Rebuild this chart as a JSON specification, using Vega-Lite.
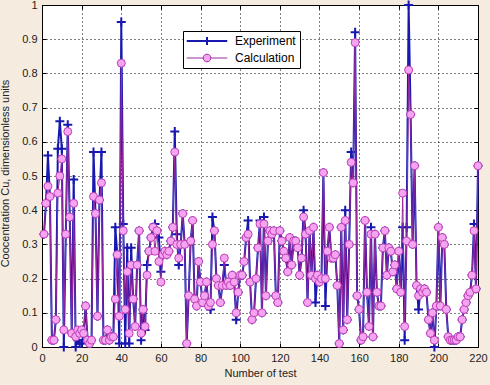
{
 "$schema": "https://vega.github.io/schema/vega-lite/v6.json",
 "width": 436,
 "height": 342,
 "autosize": "none",
 "padding": {"left": 42, "top": 5, "right": 12, "bottom": 38},
 "background": "#F5EBDF",
 "config": {
  "font": "Liberation Sans",
  "view": {"stroke": "black", "strokeWidth": 1, "fill": "white"},
  "axis": {
   "labelFont": "Liberation Sans", "labelFontSize": 11, "labelColor": "#222222",
   "titleFont": "Liberation Sans", "titleFontSize": 11, "titleFontWeight": "normal", "titleColor": "#222222",
   "domain": false, "tickColor": "black", "tickSize": -4, "labelPadding": 9,
   "labelOverlap": false, "labelBound": false, "labelFlush": false,
   "gridColor": "black", "gridDash": [1, 3], "gridOpacity": 1, "gridWidth": 1
  }
 },
 "resolve": {"axis": {"x": "independent", "y": "independent"}},
 "data": {"values": [
  {"t":1,"c":0.33,"e":0.33},{"t":2,"c":0.42,"e":0.42},{"t":3,"c":0.47,"e":0.56},{"t":4,"c":0.44,"e":0.44},{"t":5,"c":0.02,"e":0.02},
  {"t":6,"c":0.02,"e":0.02},{"t":7,"c":0.08,"e":0.08},{"t":8,"c":0.45,"e":0.58},{"t":9,"c":0.50,"e":0.66},{"t":10,"c":0.55,"e":0.58},
  {"t":11,"c":0.05,"e":0.0},{"t":12,"c":0.33,"e":0.33},{"t":13,"c":0.63,"e":0.65},{"t":14,"c":0.38,"e":0.38},{"t":15,"c":0.04,"e":0.04},
  {"t":16,"c":0.42,"e":0.49},{"t":17,"c":0.03,"e":0.0},{"t":18,"c":0.05,"e":0.02},{"t":19,"c":0.04,"e":0.01},{"t":20,"c":0.05,"e":0.01},
  {"t":21,"c":0.04,"e":0.04},{"t":22,"c":0.12,"e":0.12},{"t":23,"c":0.02,"e":0.02},{"t":24,"c":0.01,"e":0.01},{"t":25,"c":0.02,"e":0.02},
  {"t":26,"c":0.44,"e":0.57},{"t":27,"c":0.39,"e":0.39},{"t":28,"c":0.09,"e":0.09},{"t":29,"c":0.43,"e":0.43},{"t":30,"c":0.48,"e":0.57},
  {"t":31,"c":0.02,"e":0.02},{"t":32,"c":0.02,"e":0.02},{"t":33,"c":0.05,"e":0.05},{"t":34,"c":0.02,"e":0.02},{"t":35,"c":0.03,"e":0.03},
  {"t":36,"c":0.03,"e":0.03},{"t":37,"c":0.14,"e":0.35},{"t":38,"c":0.27,"e":0.27},{"t":39,"c":0.09,"e":0.01},{"t":40,"c":0.83,"e":0.95},
  {"t":41,"c":0.34,"e":0.36},{"t":42,"c":0.11,"e":0.01},{"t":43,"c":0.22,"e":0.29},{"t":44,"c":0.04,"e":0.01},{"t":45,"c":0.24,"e":0.29},
  {"t":46,"c":0.14,"e":0.14},{"t":47,"c":0.06,"e":0.06},{"t":48,"c":0.24,"e":0.24},{"t":49,"c":0.34,"e":0.34},{"t":50,"c":0.04,"e":0.02},
  {"t":51,"c":0.11,"e":0.11},{"t":52,"c":0.06,"e":0.05},{"t":53,"c":0.21,"e":0.24},{"t":54,"c":0.28,"e":0.28},{"t":55,"c":0.32,"e":0.32},
  {"t":56,"c":0.35,"e":0.35},{"t":57,"c":0.28,"e":0.36},{"t":58,"c":0.34,"e":0.34},{"t":59,"c":0.25,"e":0.32},{"t":60,"c":0.19,"e":0.22},
  {"t":61,"c":0.27,"e":0.27},{"t":62,"c":0.28,"e":0.28},{"t":63,"c":0.27,"e":0.27},{"t":64,"c":0.28,"e":0.28},{"t":65,"c":0.31,"e":0.31},
  {"t":66,"c":0.35,"e":0.35},{"t":67,"c":0.57,"e":0.63},{"t":68,"c":0.30,"e":0.33},{"t":69,"c":0.26,"e":0.24},{"t":70,"c":0.30,"e":0.30},
  {"t":71,"c":0.39,"e":0.39},{"t":72,"c":0.30,"e":0.30},{"t":73,"c":0.01,"e":0.01},{"t":74,"c":0.15,"e":0.15},{"t":75,"c":0.31,"e":0.31},
  {"t":76,"c":0.37,"e":0.37},{"t":77,"c":0.14,"e":0.14},{"t":78,"c":0.12,"e":0.12},{"t":79,"c":0.25,"e":0.25},{"t":80,"c":0.19,"e":0.19},
  {"t":81,"c":0.13,"e":0.13},{"t":82,"c":0.15,"e":0.15},{"t":83,"c":0.19,"e":0.19},{"t":84,"c":0.12,"e":0.12},{"t":85,"c":0.13,"e":0.11},
  {"t":86,"c":0.30,"e":0.38},{"t":87,"c":0.34,"e":0.34},{"t":88,"c":0.20,"e":0.20},{"t":89,"c":0.18,"e":0.18},{"t":90,"c":0.13,"e":0.13},
  {"t":91,"c":0.18,"e":0.18},{"t":92,"c":0.26,"e":0.24},{"t":93,"c":0.18,"e":0.18},{"t":94,"c":0.19,"e":0.19},{"t":95,"c":0.18,"e":0.18},
  {"t":96,"c":0.21,"e":0.21},{"t":97,"c":0.19,"e":0.19},{"t":98,"c":0.10,"e":0.08},{"t":99,"c":0.16,"e":0.16},{"t":100,"c":0.21,"e":0.21},
  {"t":101,"c":0.21,"e":0.21},{"t":102,"c":0.25,"e":0.25},{"t":103,"c":0.32,"e":0.32},{"t":104,"c":0.33,"e":0.37},{"t":105,"c":0.19,"e":0.19},
  {"t":106,"c":0.08,"e":0.08},{"t":107,"c":0.10,"e":0.10},{"t":108,"c":0.20,"e":0.20},{"t":109,"c":0.29,"e":0.29},{"t":110,"c":0.36,"e":0.37},
  {"t":111,"c":0.10,"e":0.10},{"t":112,"c":0.36,"e":0.38},{"t":113,"c":0.15,"e":0.15},{"t":114,"c":0.31,"e":0.31},{"t":115,"c":0.34,"e":0.34},
  {"t":116,"c":0.33,"e":0.33},{"t":117,"c":0.34,"e":0.34},{"t":118,"c":0.15,"e":0.15},{"t":119,"c":0.13,"e":0.13},{"t":120,"c":0.34,"e":0.34},
  {"t":121,"c":0.31,"e":0.31},{"t":122,"c":0.28,"e":0.28},{"t":123,"c":0.26,"e":0.26},{"t":124,"c":0.22,"e":0.22},{"t":125,"c":0.32,"e":0.32},
  {"t":126,"c":0.24,"e":0.24},{"t":127,"c":0.31,"e":0.31},{"t":128,"c":0.31,"e":0.31},{"t":129,"c":0.29,"e":0.29},{"t":130,"c":0.21,"e":0.21},
  {"t":131,"c":0.26,"e":0.26},{"t":132,"c":0.38,"e":0.40},{"t":133,"c":0.33,"e":0.33},{"t":134,"c":0.13,"e":0.13},{"t":135,"c":0.34,"e":0.34},
  {"t":136,"c":0.21,"e":0.21},{"t":137,"c":0.35,"e":0.35},{"t":138,"c":0.20,"e":0.13},{"t":139,"c":0.21,"e":0.21},{"t":140,"c":0.19,"e":0.19},
  {"t":141,"c":0.20,"e":0.20},{"t":142,"c":0.51,"e":0.51},{"t":143,"c":0.20,"e":0.12},{"t":144,"c":0.28,"e":0.28},{"t":145,"c":0.35,"e":0.35},
  {"t":146,"c":0.26,"e":0.26},{"t":147,"c":0.26,"e":0.26},{"t":148,"c":0.27,"e":0.27},{"t":149,"c":0.18,"e":0.18},{"t":150,"c":0.01,"e":0.01},
  {"t":151,"c":0.35,"e":0.35},{"t":152,"c":0.05,"e":0.05},{"t":153,"c":0.37,"e":0.40},{"t":154,"c":0.08,"e":0.08},{"t":155,"c":0.30,"e":0.30},
  {"t":156,"c":0.54,"e":0.57},{"t":157,"c":0.48,"e":0.48},{"t":158,"c":0.89,"e":0.92},{"t":159,"c":0.15,"e":0.15},{"t":160,"c":0.11,"e":0.11},
  {"t":161,"c":0.02,"e":0.02},{"t":162,"c":0.03,"e":0.03},{"t":163,"c":0.37,"e":0.37},{"t":164,"c":0.16,"e":0.16},{"t":165,"c":0.06,"e":0.06},
  {"t":166,"c":0.33,"e":0.35},{"t":167,"c":0.03,"e":0.03},{"t":168,"c":0.33,"e":0.33},{"t":169,"c":0.16,"e":0.16},{"t":170,"c":0.12,"e":0.12},
  {"t":171,"c":0.12,"e":0.12},{"t":172,"c":0.29,"e":0.29},{"t":173,"c":0.34,"e":0.34},{"t":174,"c":0.21,"e":0.21},{"t":175,"c":0.29,"e":0.29},
  {"t":176,"c":0.28,"e":0.28},{"t":177,"c":0.22,"e":0.22},{"t":178,"c":0.24,"e":0.24},{"t":179,"c":0.17,"e":0.17},{"t":180,"c":0.28,"e":0.28},
  {"t":181,"c":0.16,"e":0.16},{"t":182,"c":0.45,"e":0.35},{"t":183,"c":0.06,"e":0.02},{"t":184,"c":0.31,"e":0.35},{"t":185,"c":0.81,"e":1.0},
  {"t":186,"c":0.68,"e":0.68},{"t":187,"c":0.30,"e":0.30},{"t":188,"c":0.53,"e":0.53},{"t":189,"c":0.18,"e":0.18},{"t":190,"c":0.15,"e":0.11},
  {"t":191,"c":0.17,"e":0.17},{"t":192,"c":0.16,"e":0.16},{"t":193,"c":0.17,"e":0.17},{"t":194,"c":0.16,"e":0.16},{"t":195,"c":0.08,"e":0.08},
  {"t":196,"c":0.04,"e":0.04},{"t":197,"c":0.10,"e":0.10},{"t":198,"c":0.02,"e":0.0},{"t":199,"c":0.12,"e":0.12},{"t":200,"c":0.35,"e":0.35},
  {"t":201,"c":0.12,"e":0.12},{"t":202,"c":0.32,"e":0.32},{"t":203,"c":0.30,"e":0.30},{"t":204,"c":0.11,"e":0.11},{"t":205,"c":0.03,"e":0.03},
  {"t":206,"c":0.02,"e":0.02},{"t":207,"c":0.02,"e":0.02},{"t":208,"c":0.02,"e":0.02},{"t":209,"c":0.02,"e":0.02},{"t":210,"c":0.03,"e":0.03},
  {"t":211,"c":0.03,"e":0.03},{"t":212,"c":0.08,"e":0.08},{"t":213,"c":0.11,"e":0.11},{"t":214,"c":0.13,"e":0.13},{"t":215,"c":0.15,"e":0.15},
  {"t":216,"c":0.16,"e":0.16},{"t":217,"c":0.21,"e":0.21},{"t":218,"c":0.34,"e":0.36},{"t":219,"c":0.17,"e":0.17},{"t":220,"c":0.53,"e":0.53}
 ]},
 "layer": [
  {
   "mark": {"type": "line", "strokeWidth": 2},
   "encoding": {
    "x": {"field": "t", "type": "quantitative", "scale": {"domain": [0, 220], "nice": false},
          "axis": {"values": [0,20,40,60,80,100,120,140,160,180,200,220], "title": "Number of test", "titlePadding": 4}},
    "y": {"field": "e", "type": "quantitative", "scale": {"domain": [0, 1], "nice": false},
          "axis": {"values": [0,0.1,0.2,0.3,0.4,0.5,0.6,0.7,0.8,0.9,1], "format": ".1~f", "title": "Coocentration Cu, dimensionless units", "titleX": -32, "titleY": 168}},
    "stroke": {"datum": "Experiment", "type": "nominal",
               "scale": {"domain": ["Experiment", "Calculation"], "range": ["#1818B0", "#9C2A9C"]},
               "legend": {
                 "title": null, "orient": "none", "legendX": 141, "legendY": 26,
                 "fillColor": "white", "strokeColor": "black", "padding": 4,
                 "labelFontSize": 12, "labelFont": "Liberation Sans", "labelColor": "black",
                 "symbolSize": 2025, "symbolOffset": 14, "labelOffset": 22, "rowPadding": 2,
                 "encode": {"symbols": {"update": {
                   "shape": {"signal": "datum.value === 'Experiment' ? 'M-0.9,0H0.9M0,-0.18V0.18' : 'M-0.9,0H-0.17M0.17,0H0.9M0.17,0A0.17,0.17 0 1,1 -0.17,0A0.17,0.17 0 1,1 0.17,0'"},
                   "fill": {"signal": "datum.value === 'Experiment' ? 'transparent' : '#F4A4F0'"},
                   "stroke": {"signal": "datum.value === 'Experiment' ? '#1818B0' : '#B036B0'"},
                   "strokeWidth": {"signal": "datum.value === 'Experiment' ? 2 : 1"},
                   "opacity": {"value": 1}
                 }}}
               }}
   }
  },
  {
   "mark": {"type": "point", "shape": "M-1,0H1M0,-1V1", "size": 81, "strokeWidth": 2, "stroke": "#1818B0", "filled": false, "opacity": 1},
   "encoding": {
    "x": {"field": "t", "type": "quantitative",
          "axis": {"orient": "top", "labels": false, "title": null, "grid": false, "values": [0,20,40,60,80,100,120,140,160,180,200,220]}},
    "y": {"field": "e", "type": "quantitative",
          "axis": {"orient": "right", "labels": false, "title": null, "grid": false, "values": [0,0.1,0.2,0.3,0.4,0.5,0.6,0.7,0.8,0.9,1]}}
   }
  },
  {
   "mark": {"type": "line", "strokeWidth": 1},
   "encoding": {
    "x": {"field": "t", "type": "quantitative", "axis": null},
    "y": {"field": "c", "type": "quantitative", "axis": null},
    "stroke": {"datum": "Calculation", "type": "nominal"}
   }
  },
  {
   "mark": {"type": "point", "shape": "circle", "size": 64, "filled": true, "fill": "#F4A4F0", "stroke": "#C040B8", "strokeWidth": 1, "opacity": 1},
   "encoding": {
    "x": {"field": "t", "type": "quantitative", "axis": null},
    "y": {"field": "c", "type": "quantitative", "axis": null}
   }
  }
 ]
}
